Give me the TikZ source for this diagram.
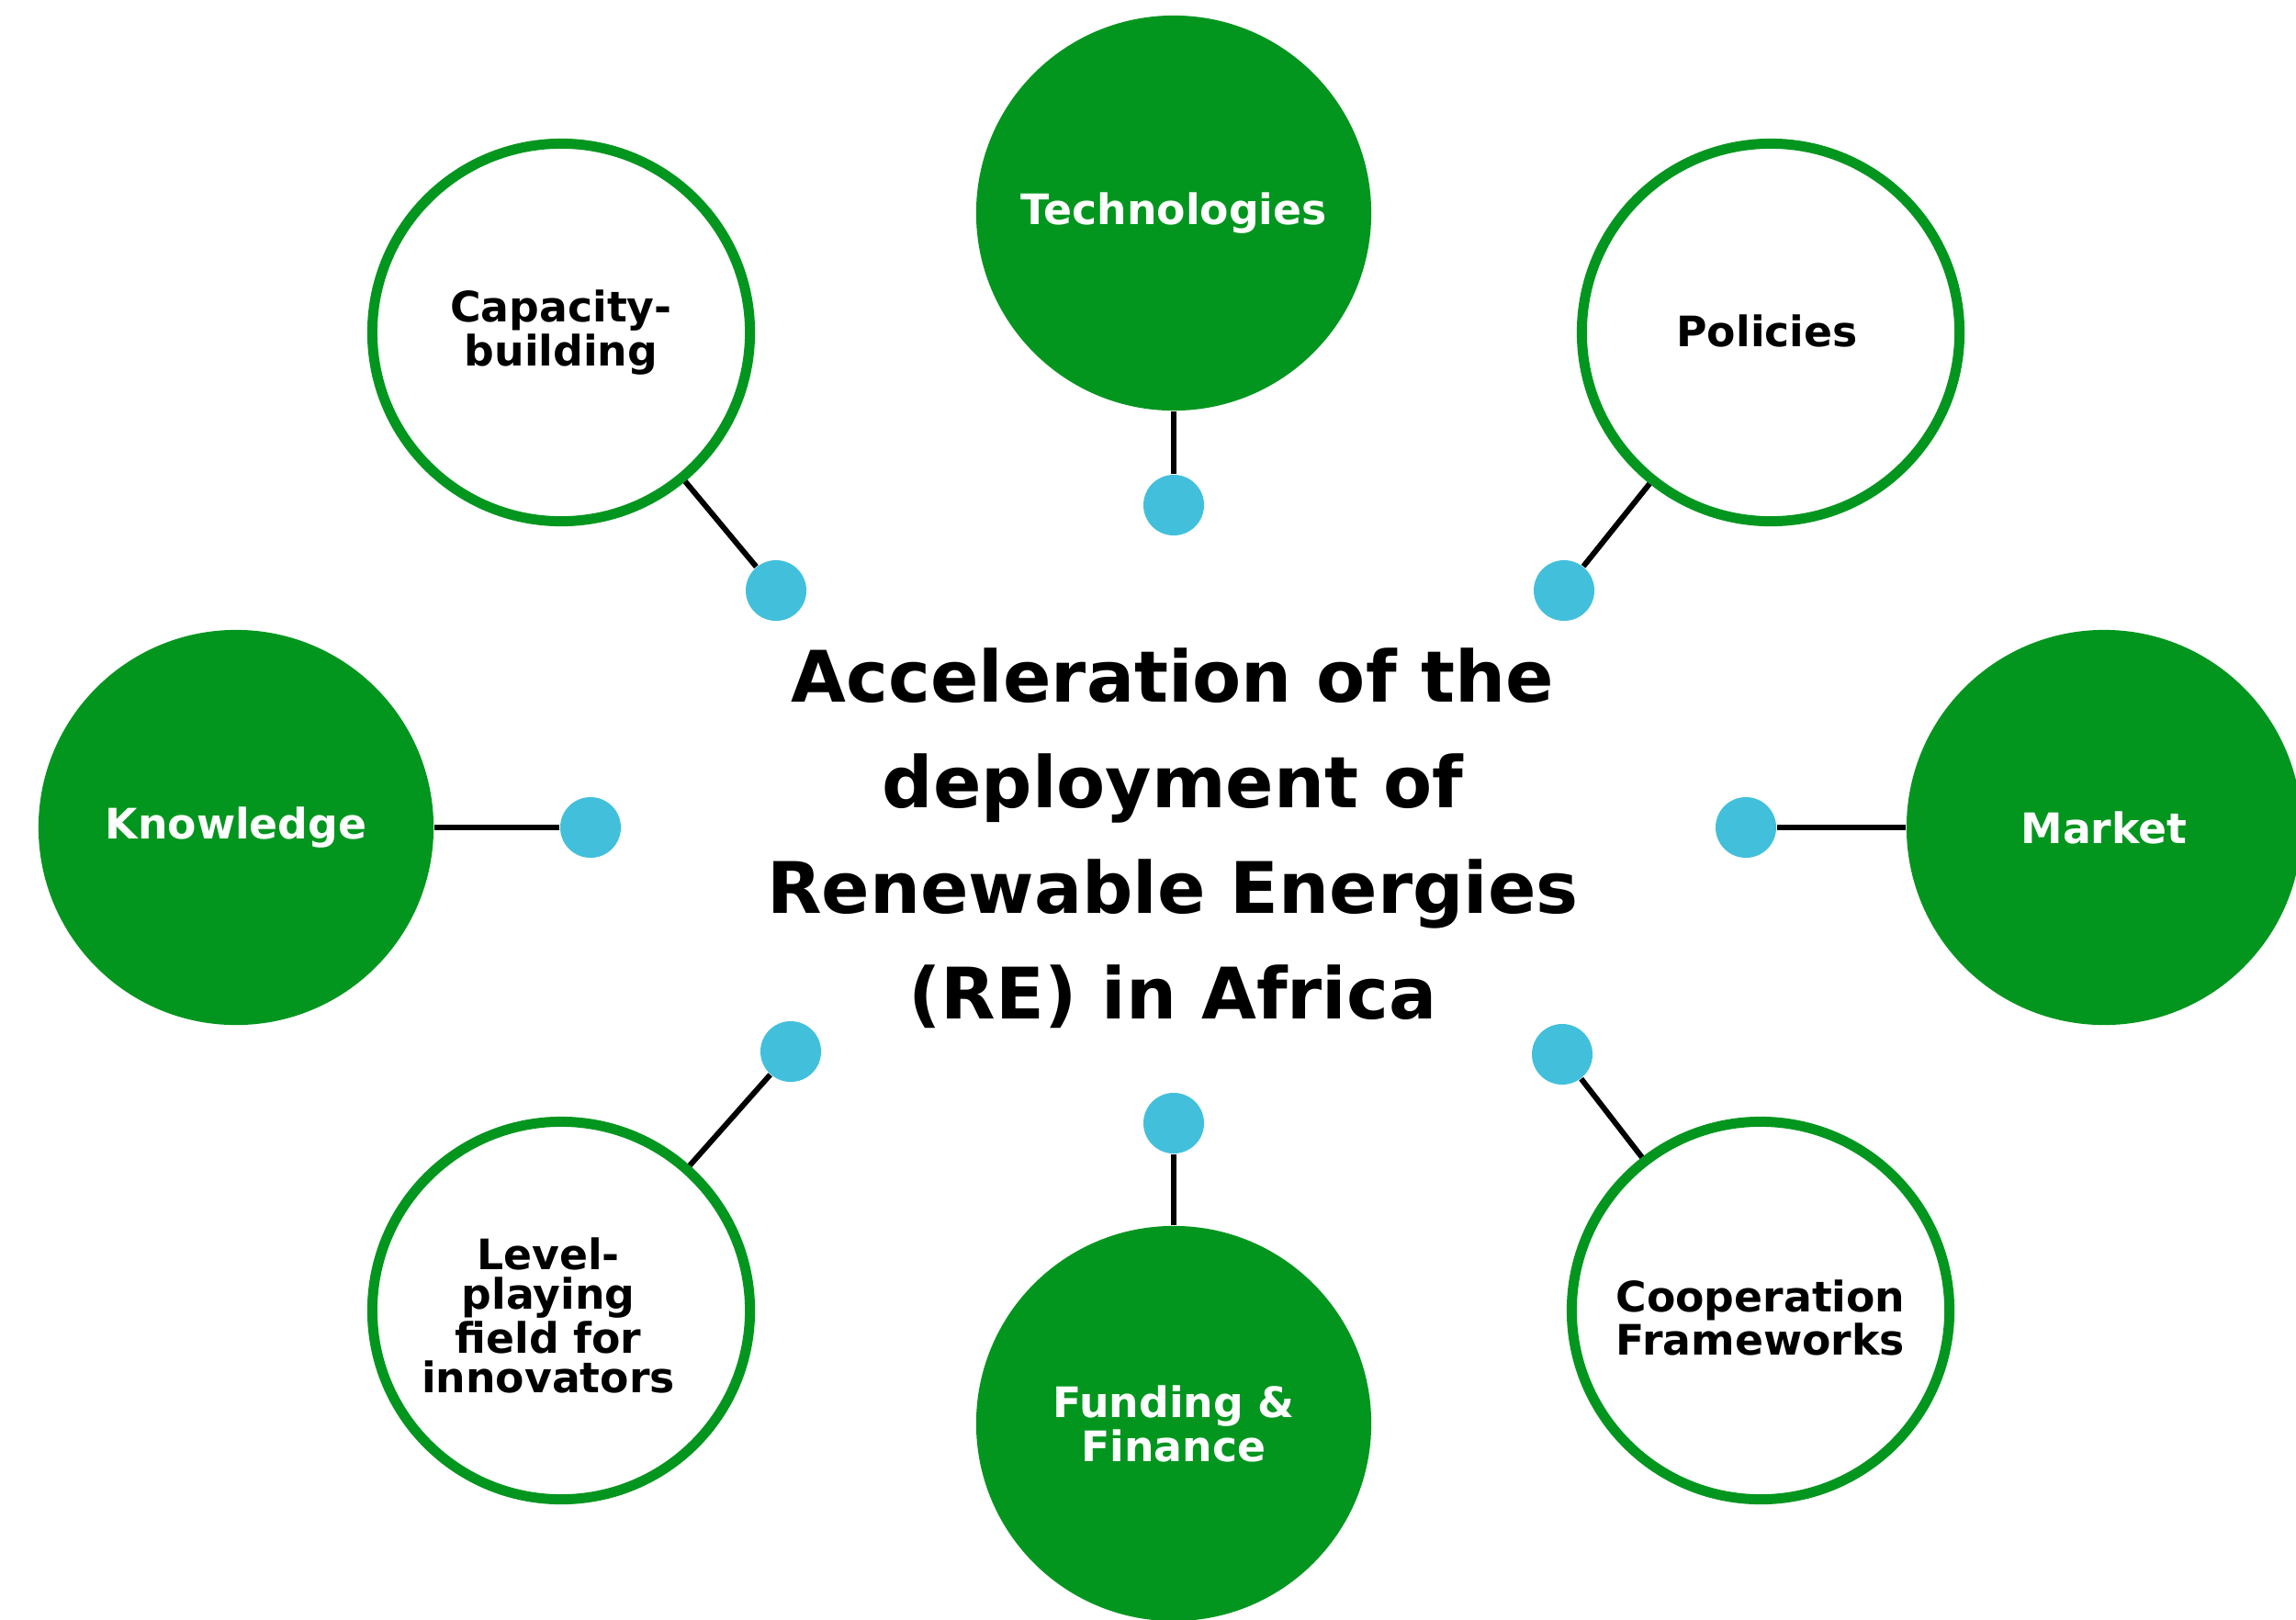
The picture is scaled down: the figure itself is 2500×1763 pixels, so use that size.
\documentclass[tikz,border=0pt]{standalone}
\usepackage{fontspec}
\setmainfont{DejaVu Sans}
\definecolor{rgreen}{RGB}{3,150,31}
\definecolor{rblue}{RGB}{66,192,219}
\begin{document}
\begin{tikzpicture}[x=0.01cm,y=-0.01cm,
  filledc/.style={circle, fill=rgreen, minimum size=4.3cm, inner sep=0pt, text=white,
    font=\bfseries\fontsize{13}{12.2}\selectfont, align=center},
  ringc/.style={circle, draw=rgreen, line width=0.11cm, fill=white, minimum size=4.11cm, inner sep=0pt, text=black,
    font=\bfseries\fontsize{13}{12.2}\selectfont, align=center},
  ringtext/.style={align=center, font=\bfseries\fontsize{13}{12.2}\selectfont, text=black},
  dotc/.style={circle, fill=rblue, minimum size=0.66cm, inner sep=0pt},
  link/.style={draw=black, line width=0.06cm},
  titlec/.style={align=center, font=\bfseries\fontsize{22}{32.7}\selectfont, text=black}]
\useasboundingbox (0,0) rectangle (2500,1763);
\clip (0,0) rectangle (2500,1763);
% outer circles
\node[filledc] (tech) at (1278,232) {Technologies};
\node[ringc]   (cap)  at (611,362)  {};
\node[ringc]   (pol)  at (1928,362) {};
\node[filledc] (know) at (257,901)  {Knowledge};
\node[filledc] (mkt)  at (2291,901) {Market};
\node[ringc]   (lev)  at (611,1427) {};
\node[filledc] (fund) at (1278,1550) {Funding \&\\Finance};
\node[ringc]   (coop) at (1917,1427) {};
\node[ringtext] (captext)  at (611,362)   {Capacity-\\building};
\node[ringtext] (poltext)  at (1924,360)  {Policies};
\node[ringtext] (levtext)  at (597,1432)  {Level-\\playing\\field for\\innovators};
\node[ringtext] (cooptext) at (1917,1435) {Cooperation\\Frameworks};
% dots
\node[dotc] (d1) at (1278,550) {};
\node[dotc] (d2) at (845,643) {};
\node[dotc] (d3) at (1703,643) {};
\node[dotc] (d4) at (643,901) {};
\node[dotc] (d5) at (1901,901) {};
\node[dotc] (d6) at (861,1145) {};
\node[dotc] (d7) at (1701,1148) {};
\node[dotc] (d8) at (1278,1223) {};
% connectors
\draw[link] (d1) -- (tech);
\draw[link] (d2) -- (cap);
\draw[link] (d3) -- (pol);
\draw[link] (d4) -- (know);
\draw[link] (d5) -- (mkt);
\draw[link] (d6) -- (lev);
\draw[link] (d7) -- (coop);
\draw[link] (d8) -- (fund);
% title
\node[titlec] (title) at (1277,913) {Acceleration of the\\deployment of\\Renewable Energies\\(RE) in Africa};
\end{tikzpicture}
\end{document}
